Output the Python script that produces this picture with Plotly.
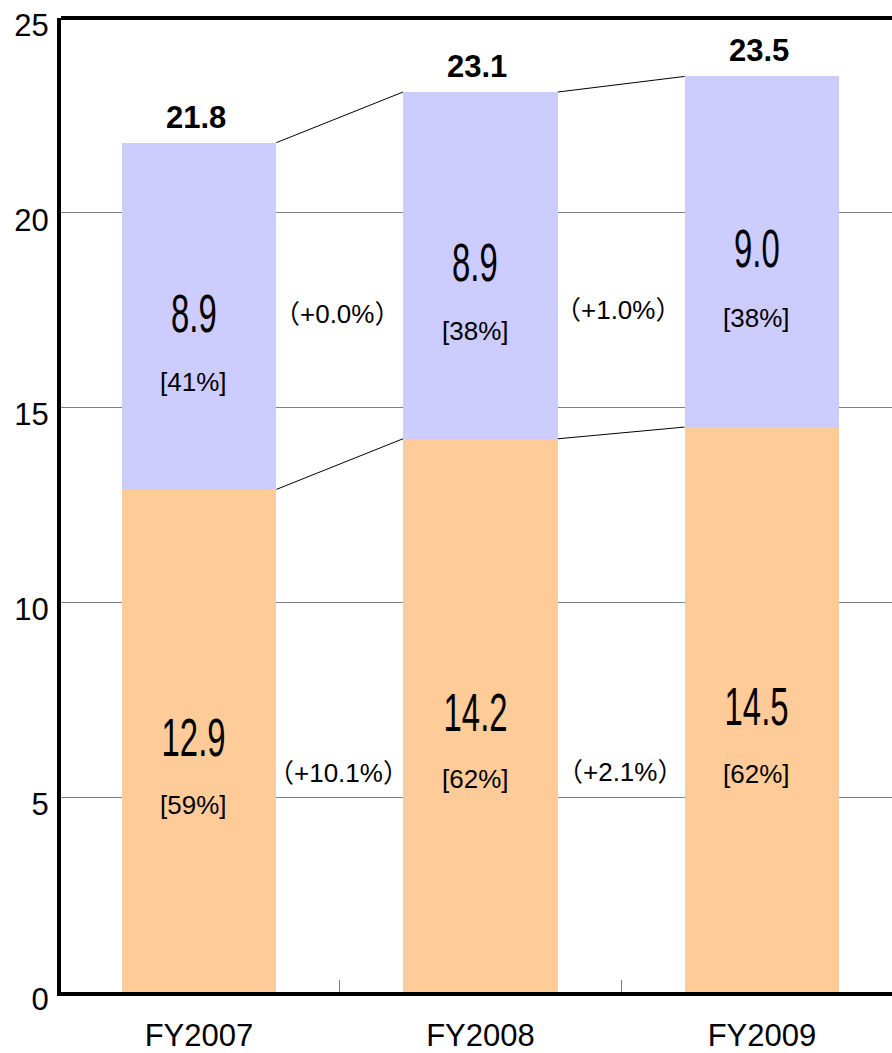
import plotly.graph_objects as go

# Fiscal years and the two stacked components
years = ["FY2007", "FY2008", "FY2009"]
lower_vals = [12.9, 14.2, 14.5]
upper_vals = [8.9, 8.9, 9.0]
totals = [21.8, 23.1, 23.5]
lower_share = ["[59%]", "[62%]", "[62%]"]
upper_share = ["[41%]", "[38%]", "[38%]"]
upper_growth = ["+0.0%", "+1.0%"]
lower_growth = ["+10.1%", "+2.1%"]
y_ticks = [0, 5, 10, 15, 20, 25]

LOWER_COLOR = "#FFCC99"
UPPER_COLOR = "#CCCCFF"
BAR_W = 0.55
BASE_FONT = "Liberation Sans, Arial, sans-serif"
PAREN_FONT = "Liberation Sans, Noto Sans CJK JP, sans-serif"
BIG_SIZE = 53  # segment values, squeezed horizontally after rendering

fig = go.Figure()
fig.add_trace(go.Bar(x=years, y=lower_vals, marker=dict(color=LOWER_COLOR, line=dict(width=0)),
                     width=BAR_W, hoverinfo="skip"))
fig.add_trace(go.Bar(x=years, y=upper_vals, marker=dict(color=UPPER_COLOR, line=dict(width=0)),
                     width=BAR_W, hoverinfo="skip"))

annotations = []
for i in range(len(years)):
    lo = lower_vals[i]
    up = upper_vals[i]
    lo_mid = lo / 2
    up_mid = lo + up / 2
    # big segment values
    annotations.append(dict(x=i, y=lo_mid, xshift=-5, yshift=3, text=f"{lo:.1f}",
                            showarrow=False,
                            font=dict(family=BASE_FONT, size=BIG_SIZE, color="black")))
    annotations.append(dict(x=i, y=up_mid, xshift=-5, yshift=3, text=f"{up:.1f}",
                            showarrow=False,
                            font=dict(family=BASE_FONT, size=BIG_SIZE, color="black")))
    # share of total
    annotations.append(dict(x=i, y=lo_mid, xshift=-5, yshift=-64, text=lower_share[i],
                            showarrow=False, font=dict(family=BASE_FONT, size=26, color="black")))
    annotations.append(dict(x=i, y=up_mid, xshift=-5, yshift=-66, text=upper_share[i],
                            showarrow=False, font=dict(family=BASE_FONT, size=26, color="black")))
    # totals above the bars
    annotations.append(dict(x=i, y=totals[i], yanchor="bottom", yshift=6, xshift=-3,
                            text=f"<b>{totals[i]:.1f}</b>", showarrow=False,
                            font=dict(family=BASE_FONT, size=31, color="black")))

# year-over-year growth between neighbouring bars
growth_y_upper = [17.4, 17.5]
growth_y_lower = [5.63, 5.65]
for j in range(len(years) - 1):
    annotations.append(dict(x=j + 0.5, y=growth_y_upper[j], xshift=-3,
                            text=f"（{upper_growth[j]}）", showarrow=False,
                            font=dict(family=PAREN_FONT, size=26, color="black")))
    annotations.append(dict(x=j + 0.5, y=growth_y_lower[j], xshift=-1,
                            text=f"（{lower_growth[j]}）", showarrow=False,
                            font=dict(family=PAREN_FONT, size=26, color="black")))

shapes = []
# connector lines from one bar's segment tops to the next
for j in range(len(years) - 1):
    for tops in (lower_vals, totals):
        shapes.append(dict(type="line", xref="x", yref="y",
                           x0=j + BAR_W / 2, y0=tops[j], x1=j + 1 - BAR_W / 2, y1=tops[j + 1],
                           line=dict(color="black", width=1)))
# top frame line
shapes.append(dict(type="line", xref="paper", yref="paper", x0=0, x1=1, y0=1, y1=1,
                   line=dict(color="black", width=4)))

plot_left, plot_right = 61, 892
unit_px = 281.5
x_start = -0.49
x_span = (plot_right - plot_left) / unit_px

fig.update_layout(
    width=892, height=1053,
    margin=dict(l=plot_left, r=892 - plot_right, t=18, b=58),
    barmode="stack",
    bargap=0,
    showlegend=False,
    plot_bgcolor="white",
    paper_bgcolor="white",
    annotations=annotations,
    shapes=shapes,
    xaxis=dict(
        type="category",
        range=[x_start, x_start + x_span],
        showline=True, linecolor="black", linewidth=4,
        ticks="inside", tickson="boundaries", ticklen=12, tickcolor="#777777", tickwidth=1,
        showgrid=False,
        ticklabelstandoff=13,
        tickfont=dict(family=BASE_FONT, size=31, color="black"),
    ),
    yaxis=dict(
        range=[0, 25],
        tickvals=y_ticks,
        showline=True, linecolor="black", linewidth=4,
        showgrid=True, gridcolor="#808080", gridwidth=1,
        zeroline=False,
        ticks="",
        ticklabelshift=7,
        ticklabelstandoff=2,
        tickfont=dict(family=BASE_FONT, size=31, color="black"),
    ),
)

# narrow the large segment values (condensed face) around their own centres
squeeze_js = """
var gd = document.getElementById('{plot_id}');
function squeezeBig() {
  gd.querySelectorAll('text.annotation-text').forEach(function (t) {
    if (parseFloat(t.style.fontSize) >= %d) {
      t.style.transformBox = 'fill-box';
      t.style.transformOrigin = 'center';
      t.style.transform = 'scaleX(0.62)';
    }
  });
}
squeezeBig();
gd.on('plotly_afterplot', squeezeBig);
""" % BIG_SIZE

fig.write_html("out.html", post_script=squeeze_js)
